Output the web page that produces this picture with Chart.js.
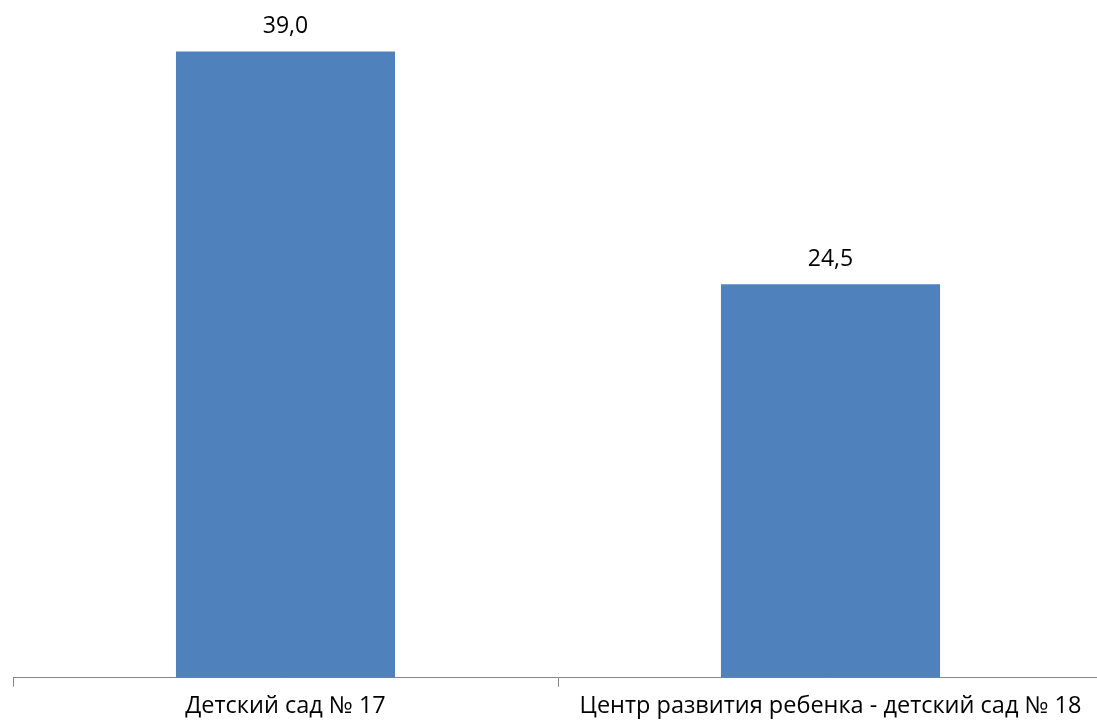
<!DOCTYPE html>
<html>
<head>
<meta charset="utf-8">
<script src="https://cdn.jsdelivr.net/npm/chart.js@4"></script>
<style>
  html, body { margin: 0; padding: 0; background: #fff; overflow: hidden; }
  #wrap { width: 1110px; height: 728px; }
</style>
</head>
<body>
<div id="wrap"><canvas id="chart" width="1110" height="728"></canvas></div>
<script>
// data
var categories = ["Детский сад № 17", "Центр развития ребенка - детский сад № 18"];
var values = [39.0, 24.5];

var barColor = '#4F81BD';
var axisColor = '#868686';
var fontFamily = "'Open Sans', sans-serif";

// value labels above the bars, comma as decimal mark
var barLabels = {
    id: 'barLabels',
    afterDatasetsDraw: function(chart) {
        var ctx = chart.ctx;
        var meta = chart.getDatasetMeta(0);
        ctx.save();
        ctx.font = '23px ' + fontFamily;
        ctx.fillStyle = '#000';
        ctx.textAlign = 'center';
        ctx.textBaseline = 'alphabetic';
        meta.data.forEach(function(bar, i) {
            var txt = values[i].toFixed(1).replace('.', ',');
            ctx.fillText(txt, bar.x, bar.y - 18.5);
        });
        ctx.restore();
    }
};

var ctx = document.getElementById("chart");
new Chart(ctx, {
    type: 'bar',
    data: {
        labels: categories,
        datasets: [{
            data: values,
            backgroundColor: barColor,
            borderWidth: 0,
            categoryPercentage: 1,
            barPercentage: 0.402
        }]
    },
    options: {
        responsive: false,
        animation: false,
        devicePixelRatio: 1,
        layout: {
            padding: { left: 13, right: 7, top: 0, bottom: 3 }
        },
        plugins: {
            legend: { display: false },
            tooltip: { enabled: false }
        },
        scales: {
            x: {
                border: { display: true, color: axisColor, width: 1 },
                grid: {
                    offset: true,
                    drawOnChartArea: false,
                    drawTicks: true,
                    tickLength: 9,
                    color: axisColor
                },
                ticks: {
                    color: '#000',
                    padding: 5,
                    maxRotation: 0,
                    autoSkip: false,
                    font: { family: fontFamily, size: 23.5 }
                }
            },
            y: {
                display: false,
                min: 0,
                max: 42.2
            }
        }
    },
    plugins: [barLabels]
});
</script>
</body>
</html>
